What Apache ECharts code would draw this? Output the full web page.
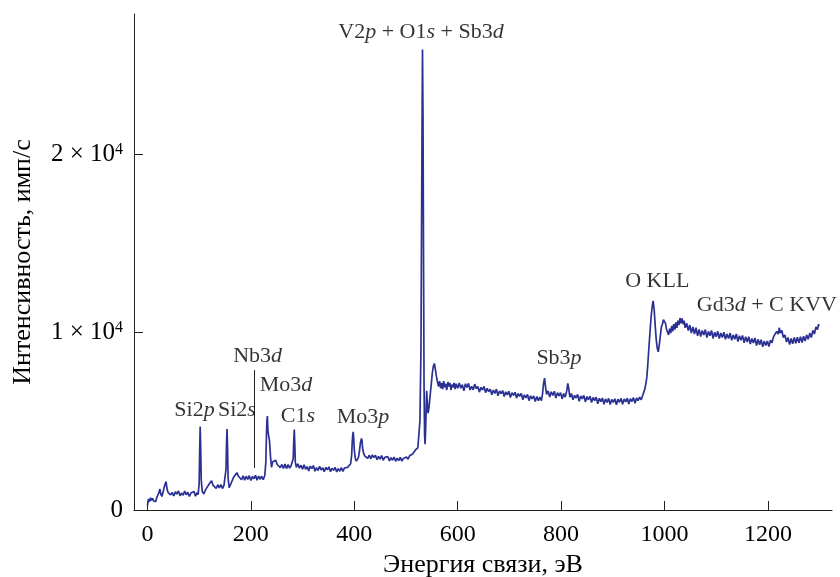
<!DOCTYPE html>
<html>
<head>
<meta charset="utf-8">
<script src="https://cdn.jsdelivr.net/npm/echarts@6/dist/echarts.min.js"></script>
<style>html,body{margin:0;padding:0;background:#fff}#c{width:840px;height:577px}</style>
</head>
<body>
<div id="c"></div>
<script>
// Binding energy (eV), intensity (counts/s), by region
const regionLow = [[0,250],[2,620],[4,470],[6,690],[8,540],[10,660],[12,510],[14,600],[16,470],[18,700],[20,830],[22,960],[24,1180],[26,880],[28,760],[30,980],[32,1240],[34,1450],[36,1600],[38,1160],[40,980],[42,1050],[45,850],[48,980],[51,790],[54,1020],[57,900],[60,1070],[63,800],[66,950],[69,830],[72,1060],[75,860],[78,1000],[81,760],[84,950],[87,880],[90,1040],[93,780],[96,980],[98,860],[100,1500],[101,3300],[102,4700],[103,3500],[104,1700],[106,1050],[109,900],[112,1120],[115,1050],[118,1400],[121,1420],[124,1650],[127,1380],[130,1480],[133,1220],[136,1420],[139,1250],[142,1430],[145,1210],[148,1380],[151,1400],[152,2300],[153,3800],[154,4550],[155,3400],[156,1800],[158,1250],[161,1450],[164,1500],[167,1860],[170,1800],[173,2100],[176,1900],[179,1950],[182,1700],[185,1930],[188,1680],[191,1900],[194,1720],[197,1930],[200,1660],[203,1880],[206,1760],[209,1950],[212,1680],[215,1910],[218,1730],[221,1900],[224,1700],[227,1950],[229,2700],[230,4000],[231,5000],[232,5280],[233,4500],[234,4250],[235,4350],[236,3900],[238,3000],[240,2400],[242,2700],[245,2620],[248,2800],[251,2560],[254,2640],[257,2380],[260,2560],[263,2340],[266,2580],[269,2330],[272,2550],[275,2360],[278,2500],[281,2450],[282,2900],[283,3900],[284,4530],[285,3700],[286,2700],[288,2400],[291,2600],[294,2350],[297,2520],[300,2300]];
const regionMid = [[303,2540],[306,2290],[309,2440],[312,2200],[315,2470],[318,2330],[321,2500],[324,2180],[327,2380],[330,2220],[333,2460],[336,2250],[339,2380],[342,2150],[345,2400],[348,2260],[351,2430],[354,2150],[357,2350],[360,2230],[363,2400],[366,2140],[369,2330],[372,2180],[375,2380],[378,2170],[381,2360],[384,2250],[387,2400],[390,2380],[393,2600],[395,3100],[396,3800],[397,4200],[398,4400],[399,4000],[400,3400],[402,2900],[404,2750],[406,2800],[408,2950],[410,3300],[412,3800],[414,4030],[415,3900],[416,3500],[418,3200],[420,3050],[423,3150],[426,2900],[429,3080],[432,2880],[435,3100],[438,2950],[441,3080],[444,2830],[447,3020],[450,2860],[453,3060],[456,2800],[459,2960],[462,2850],[465,3000],[468,2760],[471,2950],[474,2800],[477,2980],[480,2740],[483,2920],[486,2780],[489,2960],[492,2750],[495,2900],[498,2850],[501,2980],[504,2860],[507,3050],[510,2950],[513,3150],[516,3150],[519,3400],[521,3350],[523,3500],[525,3600],[527,5000],[529,9000],[530,15000],[531,21000],[532,25900],[533,22000],[534,14000],[535,7000],[536,4200],[537,3700],[538,4500],[539,5600],[540,6700],[541,6200],[542,5600],[543,5450],[545,5900],[547,6500],[549,7100],[551,7700],[553,8100],[555,8240],[557,7900],[559,7500],[561,7200],[563,6950],[565,7250],[567,6850],[569,7150],[571,6800],[573,7250],[575,6900],[577,7100],[579,6750],[581,7200],[583,6950],[585,7150],[587,6750],[589,7050],[591,6900],[593,7150],[595,6800],[597,7100],[600,6850]];
const regionHigh = [[603,7150],[606,6850],[609,7050],[612,6700],[615,7100],[618,6900],[621,7120],[624,6750],[627,6950],[630,6760],[633,7080],[636,6820],[639,6950],[642,6630],[645,6900],[648,6750],[651,6950],[654,6600],[657,6850],[660,6650],[663,6800],[666,6480],[669,6750],[672,6560],[675,6800],[678,6430],[681,6700],[684,6550],[687,6720],[690,6380],[693,6650],[696,6480],[699,6680],[702,6330],[705,6600],[708,6450],[711,6620],[714,6300],[717,6550],[720,6400],[723,6560],[726,6200],[729,6480],[732,6300],[735,6500],[738,6150],[741,6420],[744,6250],[747,6420],[750,6100],[753,6380],[756,6150],[759,6350],[762,6150],[764,6500],[766,7100],[768,7420],[770,6900],[772,6500],[775,6700],[778,6350],[781,6650],[784,6450],[787,6680],[790,6300],[793,6600],[796,6420],[799,6600],[802,6250],[805,6550],[808,6350],[811,6700],[813,7120],[815,6800],[817,6350],[820,6550],[823,6200],[826,6450],[829,6300],[832,6500],[835,6120],[838,6420],[841,6250],[844,6450],[847,6080],[850,6380],[853,6200],[856,6400],[859,6050],[862,6330],[865,6150],[868,6350],[871,5980],[874,6280],[877,6100],[880,6300],[883,5950],[886,6250],[889,6050],[892,6280],[895,5930],[898,6220],[901,6050],[904,6260],[907,5920],[910,6230],[913,6060],[916,6280],[919,5950],[922,6250],[925,6080],[928,6290],[931,5960],[934,6260],[937,6100],[940,6320],[943,6000],[946,6300],[949,6150],[952,6350],[955,6200],[958,6450],[960,6550]];
const regionAuger = [[962,6800],[964,7100],[966,7500],[968,8300],[970,9200],[972,10000],[974,10800],[976,11400],[978,11760],[980,11300],[982,10400],[984,9600],[986,9100],[988,8900],[990,9300],[992,9800],[994,10300],[996,10450],[998,10700],[1000,10680],[1002,10500],[1004,10150],[1006,10050],[1008,9850],[1010,10200],[1012,9950],[1014,10350],[1016,10050],[1018,10450],[1020,10150],[1022,10550],[1024,10250],[1026,10650],[1028,10400],[1030,10800],[1032,10500],[1034,10780],[1036,10450],[1038,10650],[1040,10250],[1043,10500],[1046,10100],[1049,10400],[1052,9950],[1055,10300],[1058,9900],[1061,10250],[1064,9800],[1067,10150],[1070,9750],[1073,10100],[1076,9850],[1079,10150],[1082,9700],[1085,10050],[1088,9800],[1091,10100],[1094,9650],[1097,10000],[1100,9750],[1103,10050],[1106,9650],[1109,9950],[1112,9700],[1115,10000],[1118,9600],[1121,9900],[1124,9650],[1127,9950],[1130,9550],[1133,9850],[1136,9600],[1139,9900],[1142,9480],[1145,9800],[1148,9550],[1151,9820],[1154,9400],[1157,9750],[1160,9450],[1163,9750],[1166,9330],[1169,9650],[1172,9400],[1175,9680],[1178,9250],[1181,9600],[1184,9300],[1187,9580],[1190,9180],[1193,9500],[1196,9250],[1199,9500],[1202,9200],[1205,9550],[1208,9400],[1211,9750],[1214,9650],[1217,10050],[1220,9900],[1222,10250],[1224,9950],[1227,10100],[1230,9700],[1233,9850],[1236,9450],[1239,9700],[1242,9300],[1245,9650],[1248,9350],[1251,9700],[1254,9380],[1257,9720],[1260,9400],[1263,9750],[1266,9420],[1269,9780],[1272,9500],[1275,9850],[1278,9600],[1281,9950],[1284,9700],[1287,10100],[1290,9900],[1293,10300],[1296,10150],[1298,10450],[1299,10350]];

// Peak annotations: [energy, intensity, text]
const peakLabels = [
  [529, 26860, 'V2{i|p} + O1{i|s} + Sb3{i|d}'],
  [91, 5620, 'Si2{i|p}'],
  [173, 5620, 'Si2{i|s}'],
  [213, 8650, 'Nb3{i|d}'],
  [268, 7025, 'Mo3{i|d}'],
  [291, 5250, 'C1{i|s}'],
  [417, 5230, 'Mo3{i|p}'],
  [796, 8540, 'Sb3{i|p}'],
  [986, 12870, 'O KLL'],
  [1198, 11520, 'Gd3{i|d} + C KVV']
];
const nbLine = [[206, 2360], [206, 7870]];

const xTicks = [0, 200, 400, 600, 800, 1000, 1200];
const yTicks = [0, 10000, 20000];
const xRange = [-26, 1324];
const yRange = [0, 27900];

const spectrum = regionLow.concat(regionMid, regionHigh, regionAuger);
const FONT = '"Liberation Serif", "Times New Roman", serif';
const INK = '#000000';

const chart = echarts.init(document.getElementById('c'), null, {renderer: 'canvas'});
chart.setOption({
  animation: false,
  backgroundColor: '#fff',
  textStyle: {fontFamily: FONT, color: INK},
  grid: {left: 134, right: 8, top: 14, bottom: 67, containLabel: false, outerBoundsMode: 'none'},
  xAxis: {
    type: 'value', min: xRange[0], max: xRange[1],
    name: 'Энергия связи, эВ', nameLocation: 'middle', nameGap: 42,
    nameTextStyle: {fontFamily: FONT, fontSize: 26, color: INK},
    axisLine: {show: true, onZero: false, lineStyle: {color: '#231f20', width: 1}},
    axisTick: {show: true, inside: true, length: 9, customValues: xTicks, lineStyle: {color: '#231f20'}},
    axisLabel: {customValues: xTicks, fontFamily: FONT, fontSize: 24, color: INK, margin: 13,
      formatter: function (v) { return String(v); }},
    splitLine: {show: false}
  },
  yAxis: {
    type: 'value', min: yRange[0], max: yRange[1],
    name: 'Интенсивность, имп/с', nameLocation: 'middle', nameGap: 98, nameRotate: 90,
    nameTextStyle: {fontFamily: FONT, fontSize: 26, color: INK},
    axisLine: {show: true, onZero: false, lineStyle: {color: '#231f20', width: 1}},
    axisTick: {show: true, inside: true, length: 9, customValues: yTicks, lineStyle: {color: '#231f20'}},
    axisLabel: {
      customValues: yTicks, fontFamily: FONT, fontSize: 25, color: INK, margin: 11,
      formatter: function (v) { return v === 0 ? '0' : (v / 10000) + ' × 10{sup|4}'; },
      rich: {sup: {fontFamily: FONT, fontSize: 16, color: INK, verticalAlign: 'top', lineHeight: 15}}
    },
    splitLine: {show: false}
  },
  series: [
    {
      type: 'line', data: spectrum, showSymbol: false, symbol: 'none', sampling: null,
      lineStyle: {color: '#2b3192', width: 1.7}, itemStyle: {color: '#2b3192'}, z: 2
    },
    {
      type: 'scatter', data: peakLabels, symbolSize: 0, silent: true, z: 5,
      itemStyle: {color: 'rgba(0,0,0,0)'},
      label: {
        show: true, position: 'inside', fontFamily: FONT, fontSize: 22, color: INK,
        formatter: function (p) { return p.data[2]; },
        rich: {i: {fontFamily: FONT, fontSize: 22, fontStyle: 'italic', color: INK}}
      },
      markLine: {
        silent: true, symbol: 'none', label: {show: false},
        lineStyle: {color: '#231f20', width: 1, type: 'solid'},
        data: [[{coord: nbLine[0]}, {coord: nbLine[1]}]]
      }
    }
  ]
});
</script>
</body>
</html>
